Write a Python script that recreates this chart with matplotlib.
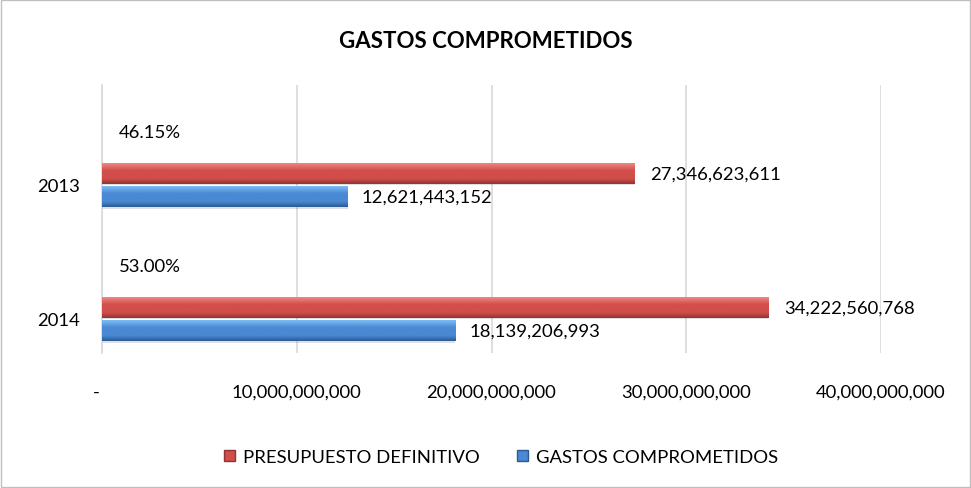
import matplotlib.pyplot as plt
import matplotlib.patches as mpatches
import matplotlib.transforms as mtransforms
import numpy as np

years = ["2013", "2014"]
presupuesto = [27346623611, 34222560768]
gastos = [12621443152, 18139206993]
porcentajes = ["46.15%", "53.00%"]
xticks = [0, 10e9, 20e9, 30e9, 40e9]
xticklabels = ["-", "10,000,000,000", "20,000,000,000", "30,000,000,000", "40,000,000,000"]

plt.rcParams["font.family"] = ["Lato", "DejaVu Sans"]
FS = 13.3

red = {"top": "#F08783", "mid": "#D24E4A", "bot": "#8E3432"}
blue = {"top": "#7DBDF5", "mid": "#4A89D3", "bot": "#2C5A92"}


def gradient_bars(ax, bars, cols):
    cmap = plt.matplotlib.colors.LinearSegmentedColormap.from_list(
        "g", [(0, cols["top"]), (0.35, cols["mid"]), (0.75, cols["mid"]), (1, cols["bot"])]
    )
    grad = np.linspace(0, 1, 64).reshape(-1, 1)
    for b in bars:
        x0, y0 = b.get_x(), b.get_y()
        w, h = b.get_width(), b.get_height()
        # inverted y axis: y0 is the top edge on screen
        im = ax.imshow(grad, aspect="auto", cmap=cmap, extent=(x0, x0 + w, y0 + h, y0),
                       zorder=3, interpolation="bicubic")
        im.set_clip_path(b)


fig = plt.figure(figsize=(9.71, 4.89), dpi=100)
ax = fig.add_axes([102 / 971, 1 - 354 / 489, 779 / 971, 268 / 489])

y = np.arange(len(years))
h = 0.155
off = 0.088

# shadows
ax.barh(y - off + 0.012, presupuesto, h, left=0, color="#000000", alpha=0.12, zorder=2)
ax.barh(y + off + 0.012, gastos, h, left=0, color="#000000", alpha=0.12, zorder=2)
b1 = ax.barh(y - off, presupuesto, h, color=red["mid"], zorder=3, linewidth=0)
b2 = ax.barh(y + off, gastos, h, color=blue["mid"], zorder=3, linewidth=0)
gradient_bars(ax, b1, red)
gradient_bars(ax, b2, blue)

for i in range(len(years)):
    ax.annotate(f"{presupuesto[i]:,}", (presupuesto[i], y[i] - off), xytext=(11, 0),
                textcoords="offset points", va="center", ha="left", fontsize=FS)
    ax.annotate(f"{gastos[i]:,}", (gastos[i], y[i] + off), xytext=(10, 0),
                textcoords="offset points", va="center", ha="left", fontsize=FS)
    ax.text(2.45e9, y[i] - 0.396, porcentajes[i], ha="center", va="center", fontsize=FS)

ax.set_xlim(0, 40e9)
ax.set_ylim(1.254, -0.746)
ax.set_xticks(xticks)
ax.set_xticklabels(xticklabels, fontsize=FS)
ax.set_yticks(y)
ax.set_yticklabels(years, fontsize=FS)
ax.tick_params(axis="x", length=0, pad=22)
ax.tick_params(axis="y", length=0, pad=16)
# the "-" zero label sits a little left of the axis
lbl0 = ax.get_xticklabels()[0]
lbl0.set_transform(lbl0.get_transform() + mtransforms.ScaledTranslation(-0.06, 0, fig.dpi_scale_trans))
ax.grid(axis="x", color="#D9D9D9", linewidth=1.2, zorder=0)
ax.set_axisbelow(True)
for s in ["top", "right", "bottom"]:
    ax.spines[s].set_visible(False)
ax.spines["left"].set_color("#D9D9D9")
ax.spines["left"].set_linewidth(1.2)

fig.text(0.5, 1 - 41 / 489, "GASTOS COMPROMETIDOS", ha="center", va="center",
         fontsize=16, fontweight="bold")

handles = [mpatches.Patch(facecolor=red["mid"], edgecolor=red["bot"]),
           mpatches.Patch(facecolor=blue["mid"], edgecolor=blue["bot"])]
fig.legend(handles, ["PRESUPUESTO DEFINITIVO", "GASTOS COMPROMETIDOS"], loc="center",
           bbox_to_anchor=(501 / 971, 1 - 458 / 489), ncol=2, frameon=False, fontsize=FS,
           handlelength=0.6, handleheight=0.6, handletextpad=0.4, columnspacing=2.05)

fig.patches.append(mpatches.Rectangle((0.0015, 0.002), 0.997, 0.995, transform=fig.transFigure,
                                      fill=False, edgecolor="#BFBFBF", linewidth=1))

fig.savefig("out.png", dpi=100)
